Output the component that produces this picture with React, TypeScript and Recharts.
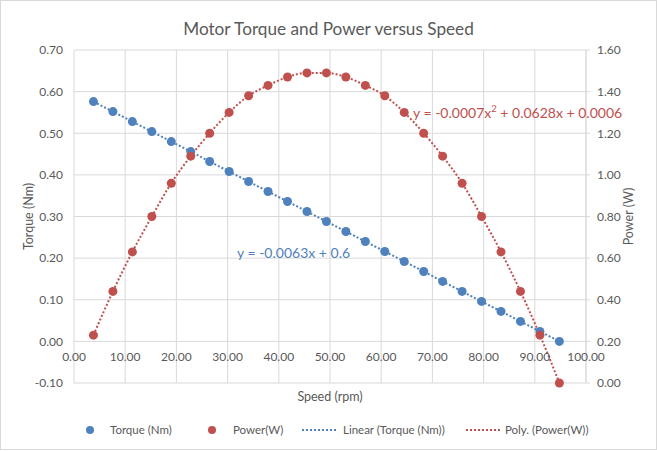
import { ComposedChart, Line, XAxis, YAxis, CartesianGrid, Label } from 'recharts'

const speed = [3.8, 7.6, 11.4, 15.2, 19.0, 22.8, 26.5, 30.3, 34.1, 37.9, 41.7, 45.5, 49.3, 53.1, 56.9, 60.7, 64.5, 68.3, 72.0, 75.8, 79.6, 83.4, 87.2, 91.0, 94.8]
const torque = [0.576, 0.552, 0.528, 0.504, 0.48, 0.456, 0.432, 0.408, 0.384, 0.36, 0.336, 0.312, 0.288, 0.264, 0.24, 0.216, 0.192, 0.168, 0.144, 0.12, 0.096, 0.072, 0.048, 0.024, 0]
const power = [0.23, 0.44, 0.63, 0.8, 0.96, 1.09, 1.2, 1.3, 1.38, 1.43, 1.47, 1.49, 1.49, 1.47, 1.43, 1.38, 1.3, 1.2, 1.09, 0.96, 0.8, 0.63, 0.44, 0.23, 0]

const speedTicks = [0, 10, 20, 30, 40, 50, 60, 70, 80, 90, 100]
const torqueTicks = [-0.1, 0, 0.1, 0.2, 0.3, 0.4, 0.5, 0.6, 0.7]
const powerTicks = [0, 0.2, 0.4, 0.6, 0.8, 1.0, 1.2, 1.4, 1.6]

const BLUE = '#4F81BD'
const RED = '#C0504D'
const TEXT = '#595959'
const GRID = '#D9D9D9'
const FONT = 'Lato, "Open Sans", sans-serif'

const data = speed.map((s, i) => ({ speed: s, torque: torque[i], power: power[i] }))

// x labels sit on the zero line of the torque axis, like Excel does
function SpeedTick(props: any) {
  const { x, y, payload } = props
  return (
    <text x={x} y={y - 27} textAnchor="middle" dominantBaseline="central" fill={TEXT} fontSize={12} fontFamily={FONT}>
      {Number(payload.value).toFixed(2)}
    </text>
  )
}

function LegendItem({ kind, color, text, left, textLeft }: { kind: 'dot' | 'line'; color: string; text: string; left: number; textLeft: number }) {
  return (
    <>
      <svg style={{ position: 'absolute', left, top: 0 }} width={40} height={14}>
        {kind === 'dot' ? (
          <circle cx={4} cy={7} r={4} fill={color} />
        ) : (
          <line x1={0} y1={7} x2={36} y2={7} stroke={color} strokeWidth={2} strokeDasharray="2 2" />
        )}
      </svg>
      <span style={{ position: 'absolute', left: textLeft, top: 0, lineHeight: '14px' }}>{text}</span>
    </>
  )
}

export default function App() {
  return (
    <div style={{ position: 'absolute', left: 0, top: 0, width: 657, height: 451, background: '#fff', fontFamily: FONT }}>
      <div style={{ position: 'absolute', left: 0, top: 0, width: 655, height: 448, border: `1px solid ${GRID}` }} />
      <div style={{ position: 'absolute', top: 18, left: 0, width: 657, textAlign: 'center', fontSize: 17.2, color: TEXT }}>
        Motor Torque and Power versus Speed
      </div>
      <ComposedChart width={657} height={451} data={data} margin={{ top: 50, right: 0, bottom: 0, left: 0 }} style={{ position: 'absolute', left: 0, top: 0 }}>
        <CartesianGrid yAxisId="t" stroke={GRID} ticks={torqueTicks} />
        <XAxis
          type="number"
          dataKey="speed"
          domain={[0, 100]}
          ticks={speedTicks}
          height={68}
          axisLine={false}
          tickLine={false}
          tickSize={0}
          tickMargin={0}
          tick={<SpeedTick />}
          interval={0}
        >
          <Label
            content={({ viewBox }: any) => (
              <text x={viewBox.x + viewBox.width / 2} y={viewBox.y + 13} textAnchor="middle" dominantBaseline="central" fill={TEXT} fontSize={12.5} fontFamily={FONT}>
                Speed (rpm)
              </text>
            )}
          />
        </XAxis>
        <YAxis
          yAxisId="t"
          domain={[-0.1, 0.7]}
          ticks={torqueTicks}
          width={74}
          axisLine={false}
          tickLine={false}
          tickSize={0}
          tickMargin={11}
          interval={0}
          tickFormatter={(v: number) => v.toFixed(2)}
          tick={{ fill: TEXT, fontSize: 12, fontFamily: FONT }}
        >
          <Label
            content={({ viewBox }: any) => (
              <text x={28} y={viewBox.y + viewBox.height / 2} transform={`rotate(-90, 28, ${viewBox.y + viewBox.height / 2})`} textAnchor="middle" dominantBaseline="central" fill={TEXT} fontSize={12.5} fontFamily={FONT}>
                Torque (Nm)
              </text>
            )}
          />
        </YAxis>
        <YAxis
          yAxisId="p"
          orientation="right"
          domain={[0, 1.6]}
          ticks={powerTicks}
          width={71}
          axisLine={{ stroke: GRID }}
          tickLine={{ stroke: GRID }}
          tickSize={4}
          tickMargin={7}
          interval={0}
          tickFormatter={(v: number) => v.toFixed(2)}
          tick={{ fill: TEXT, fontSize: 12, fontFamily: FONT }}
        >
          <Label
            content={({ viewBox }: any) => (
              <text x={viewBox.x + 42} y={viewBox.y + viewBox.height / 2} transform={`rotate(-90, ${viewBox.x + 42}, ${viewBox.y + viewBox.height / 2})`} textAnchor="middle" dominantBaseline="central" fill={TEXT} fontSize={12.5} fontFamily={FONT}>
                Power (W)
              </text>
            )}
          />
        </YAxis>

        <Line yAxisId="t" dataKey="torque" type="monotone" stroke={BLUE} strokeWidth={2} strokeDasharray="2 2" dot={false} activeDot={false} isAnimationActive={false} />
        <Line yAxisId="p" dataKey="power" type="monotone" stroke={RED} strokeWidth={2} strokeDasharray="2 2" dot={false} activeDot={false} isAnimationActive={false} />
        <Line yAxisId="t" dataKey="torque" stroke="none" dot={{ r: 4.5, fill: BLUE, stroke: 'none' }} activeDot={false} isAnimationActive={false} />
        <Line yAxisId="p" dataKey="power" stroke="none" dot={{ r: 4.5, fill: RED, stroke: 'none' }} activeDot={false} isAnimationActive={false} />
      </ComposedChart>

      <div style={{ position: 'absolute', left: 237, top: 244, fontSize: 14, color: BLUE, whiteSpace: 'nowrap' }}>y = -0.0063x + 0.6</div>
      <div style={{ position: 'absolute', left: 413, top: 104, fontSize: 14, color: RED, whiteSpace: 'nowrap' }}>
        y = -0.0007x<sup style={{ fontSize: 9.5, lineHeight: 0 }}>2</sup> + 0.0628x + 0.0006
      </div>

      <div style={{ position: 'absolute', left: 0, top: 423, width: 657, height: 14, fontSize: 11.5, color: TEXT, whiteSpace: 'nowrap' }}>
        <LegendItem kind="dot" color={BLUE} text="Torque (Nm)" left={86} textLeft={110} />
        <LegendItem kind="dot" color={RED} text="Power(W)" left={208} textLeft={233} />
        <LegendItem kind="line" color={BLUE} text="Linear (Torque (Nm))" left={302} textLeft={343} />
        <LegendItem kind="line" color={RED} text="Poly. (Power(W))" left={466} textLeft={505} />
      </div>
    </div>
  )
}
